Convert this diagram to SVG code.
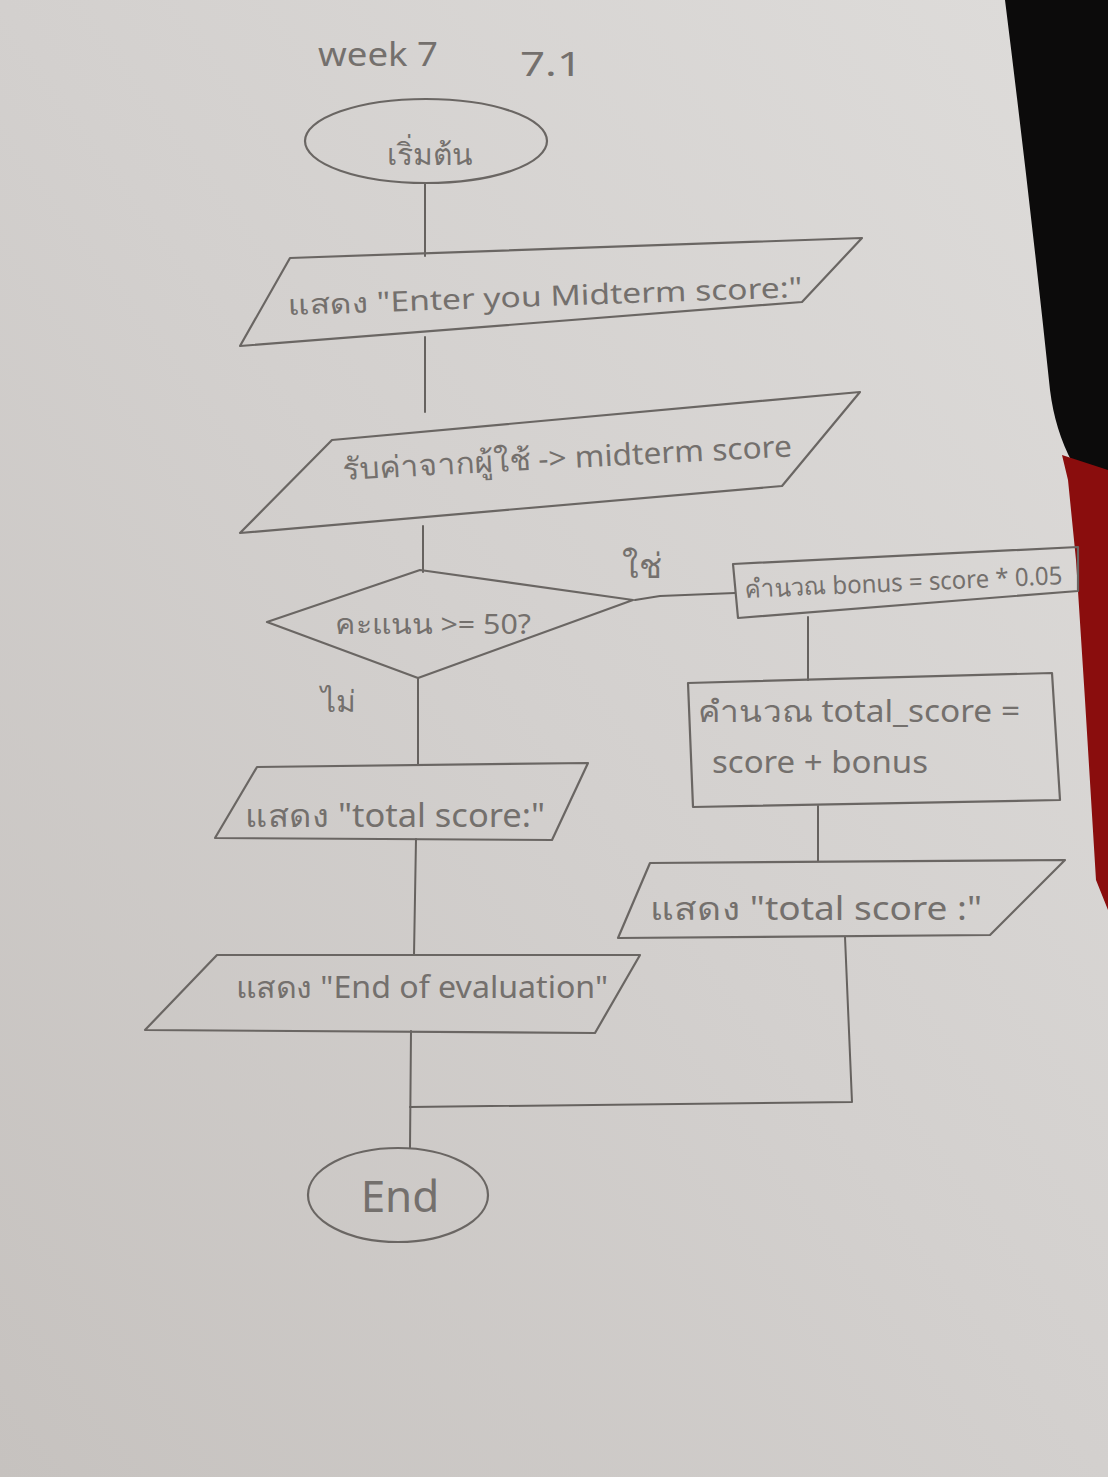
<svg xmlns="http://www.w3.org/2000/svg" width="1108" height="1477" viewBox="0 0 1108 1477">
<defs>
<linearGradient id="paper" x1="1" y1="0" x2="0" y2="1">
<stop offset="0" stop-color="#dedcda"/>
<stop offset="0.5" stop-color="#d3d0ce"/>
<stop offset="1" stop-color="#c6c2bf"/>
</linearGradient>
<style>
.ln{fill:none;stroke:#66625f;stroke-width:2;stroke-linejoin:round;stroke-linecap:round}
.sh{fill:none;stroke:#6a6663;stroke-width:2.2;stroke-linejoin:round}
.tx{font-family:"Noto Sans","DejaVu Sans","Noto Sans CJK SC",sans-serif;fill:#74706d}
</style>
</defs>
<rect x="0" y="0" width="1108" height="1477" fill="url(#paper)"/>
<path d="M1005,0 L1108,0 L1108,478 L1072,462 Q1055,430 1050,390 Q1030,200 1005,0 Z" fill="#0c0b0b"/>
<polygon points="1062,455 1108,470 1108,910 1096,880 1085,700 1076,560 1068,480" fill="#8a0d0d"/>

<g id="title">
<text class="tx" x="318" y="66" font-size="32" textLength="120" lengthAdjust="spacingAndGlyphs">week 7</text>
<text class="tx" x="520" y="76" font-size="32" textLength="62" lengthAdjust="spacingAndGlyphs">7.1</text>
</g>

<g id="connectors">
<polyline class="ln" points="425,183 425,256"/>
<polyline class="ln" points="425,337 425,412"/>
<polyline class="ln" points="423,526 423,572"/>
<polyline class="ln" points="635,600 660,596 735,593"/>
<polyline class="ln" points="808,617 808,680"/>
<polyline class="ln" points="818,806 818,861"/>
<polyline class="ln" points="418,678 418,765"/>
<polyline class="ln" points="416,839 414,955"/>
<polyline class="ln" points="845,937 852,1102 410,1107"/>
<polyline class="ln" points="411,1031 410,1148"/>
</g>

<g id="start">
<ellipse class="sh" cx="426" cy="141" rx="121" ry="42"/>
<text class="tx" x="430" y="165" font-size="30" text-anchor="middle">เริ่มต้น</text>
</g>

<g id="show-enter">
<polygon class="sh" points="290,258 862,238 802,302 240,346"/>
<text class="tx" x="288" y="315" font-size="28" textLength="515" lengthAdjust="spacingAndGlyphs" transform="rotate(-2 288 315)">แสดง "Enter you Midterm score:"</text>
</g>

<g id="input">
<polygon class="sh" points="332,440 860,392 782,486 240,533"/>
<text class="tx" x="343" y="480" font-size="30" textLength="450" lengthAdjust="spacingAndGlyphs" transform="rotate(-3 343 480)">รับค่าจากผู้ใช้ -&gt; midterm score</text>
</g>

<g id="decision">
<polygon class="sh" points="420,570 633,600 418,678 267,622"/>
<text class="tx" x="335" y="634" font-size="28" textLength="196" lengthAdjust="spacingAndGlyphs">คะแนน &gt;= 50?</text>
</g>

<g id="labels">
<text class="tx" x="642" y="578" font-size="34" text-anchor="middle">ใช่</text>
<text class="tx" x="338" y="712" font-size="30" text-anchor="middle">ไม่</text>
</g>

<g id="calc-bonus">
<polygon class="sh" points="733,564 1078,547 1078,591 738,618"/>
<text class="tx" x="745" y="598" font-size="25" textLength="318" lengthAdjust="spacingAndGlyphs" transform="rotate(-2.5 745 598)">คำนวณ bonus = score * 0.05</text>
</g>

<g id="calc-total">
<polygon class="sh" points="688,683 1052,673 1060,800 693,807"/>
<text class="tx" x="698" y="722" font-size="30" textLength="322" lengthAdjust="spacingAndGlyphs">คำนวณ total_score =</text>
<text class="tx" x="712" y="773" font-size="30" textLength="216" lengthAdjust="spacingAndGlyphs">score + bonus</text>
</g>

<g id="show-total-right">
<polygon class="sh" points="650,863 1065,860 990,935 618,938"/>
<text class="tx" x="650" y="920" font-size="32" textLength="332" lengthAdjust="spacingAndGlyphs">แสดง "total score :"</text>
</g>

<g id="show-total-left">
<polygon class="sh" points="257,767 588,763 552,840 215,838"/>
<text class="tx" x="245" y="827" font-size="32" textLength="300" lengthAdjust="spacingAndGlyphs">แสดง "total score:"</text>
</g>

<g id="show-end">
<polygon class="sh" points="217,955 640,955 595,1033 145,1030"/>
<text class="tx" x="236" y="998" font-size="30" textLength="372" lengthAdjust="spacingAndGlyphs">แสดง "End of evaluation"</text>
</g>

<g id="end">
<ellipse class="sh" cx="398" cy="1195" rx="90" ry="47"/>
<text class="tx" x="400" y="1212" font-size="44" text-anchor="middle">End</text>
</g>
</svg>
